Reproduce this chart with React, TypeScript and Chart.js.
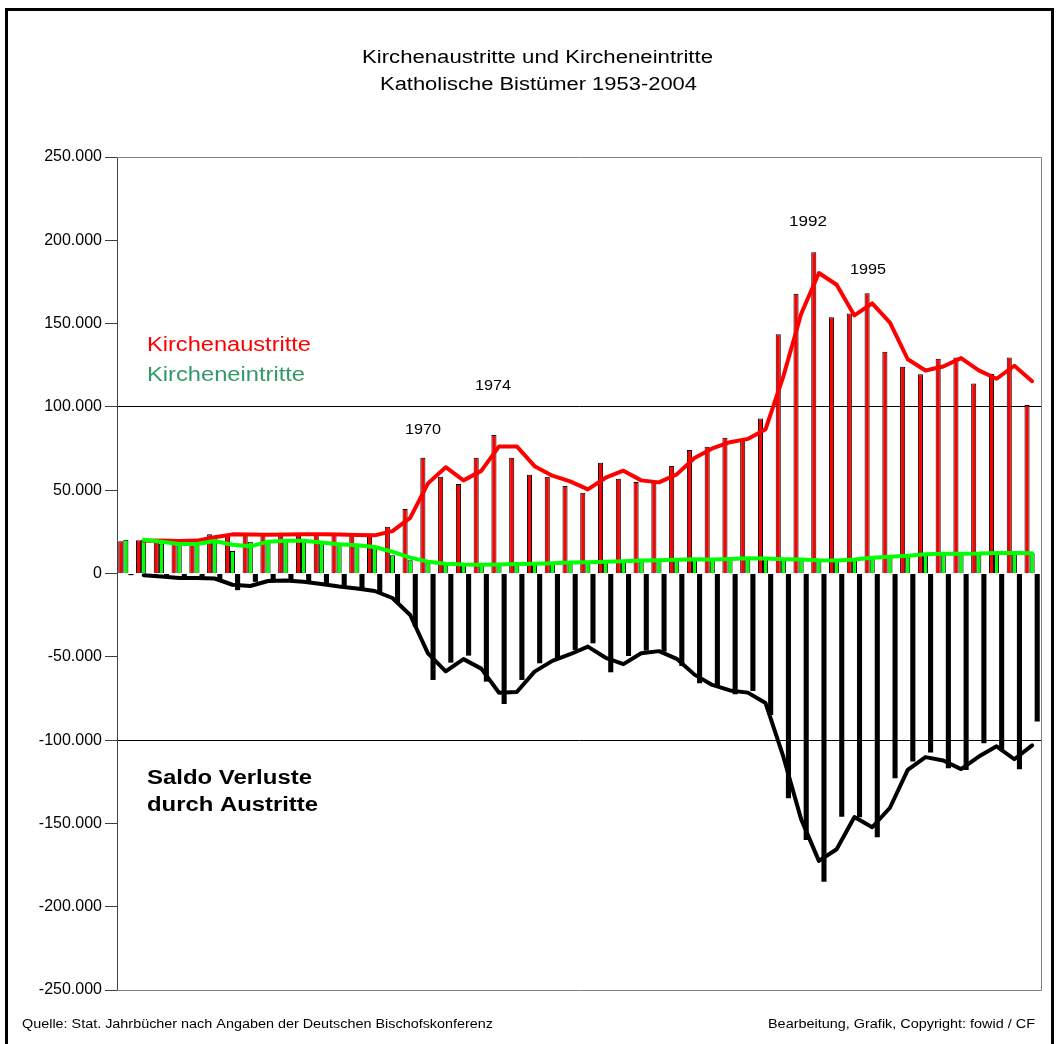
import React, { useEffect, useRef } from 'react';
import { Chart, registerables } from 'chart.js';

Chart.register(...registerables);

// Categories: years 1953-2004
const years = [
  '1953', '1954', '1955', '1956', '1957', '1958', '1959', '1960', '1961', '1962',
  '1963', '1964', '1965', '1966', '1967', '1968', '1969', '1970', '1971', '1972',
  '1973', '1974', '1975', '1976', '1977', '1978', '1979', '1980', '1981', '1982',
  '1983', '1984', '1985', '1986', '1987', '1988', '1989', '1990', '1991', '1992',
  '1993', '1994', '1995', '1996', '1997', '1998', '1999', '2000', '2001', '2002',
  '2003', '2004',
];

// Kirchenaustritte (red bars)
const austritte = [
  19300, 20000, 19500, 19500, 20000, 23500, 23500, 23200, 23200, 23500,
  23500, 23500, 23300, 23000, 22800, 28100, 38700, 69500, 58100, 53700,
  69500, 83100, 69500, 59300, 58100, 52500, 48500, 66500, 56900, 54900,
  54500, 64500, 74100, 76100, 81500, 80100, 93100, 143600, 167900, 192800,
  153800, 156000, 168200, 133100, 124100, 119600, 128900, 129700, 114100, 119700,
  129700, 101100,
];

// Kircheneintritte (green bars)
const eintritte = [
  20300, 20100, 18000, 17500, 18000, 21000, 13500, 19100, 19100, 20100,
  19100, 18100, 17100, 16700, 15100, 11000, 8000, 6200, 5500, 5200,
  5400, 5500, 6000, 5800, 6500, 6600, 6800, 7200, 7400, 8200,
  7800, 8600, 8400, 8400, 9000, 9400, 8500, 8700, 8000, 7800,
  7800, 9000, 9900, 10200, 11200, 11800, 12000, 11800, 12200, 12500,
  12200, 12200,
];

// Saldo (black bars)
const saldo = [
  -1000, -1000, -2500, -3000, -2500, -3500, -10000, -5000, -4000, -4500,
  -5500, -7000, -8500, -9500, -11500, -17900, -31900, -63900, -53500, -49300,
  -64900, -78300, -63900, -53900, -51000, -45900, -41900, -59300, -49500, -46300,
  -46900, -55500, -65900, -67900, -72500, -70500, -85000, -134900, -160000, -185000,
  -146000, -146300, -158300, -122900, -112900, -107500, -116900, -117900, -101900, -105500,
  -117500, -88900,
];

// Trend lines (2-year moving average lines)
const austritteTrend = [
  null, 19650, 19750, 19500, 19750, 21750, 23500, 23350, 23200, 23350,
  23500, 23500, 23400, 23150, 22900, 25450, 33400, 54100, 63800, 55900,
  61600, 76300, 76300, 64400, 58700, 55300, 50500, 57500, 61700, 55900,
  54700, 59500, 69300, 75100, 78800, 80800, 86600, 118350, 155750, 180350,
  173300, 154900, 162100, 150650, 128600, 121850, 124250, 129300, 121900, 116900,
  124700, 115400,
];

const eintritteTrend = [
  null, 20200, 19050, 17750, 17750, 19500, 17250, 16300, 19100, 19600,
  19600, 18600, 17600, 16900, 15900, 13050, 9500, 7100, 5850, 5350,
  5300, 5450, 5750, 5900, 6150, 6550, 6700, 7000, 7300, 7800,
  8000, 8200, 8500, 8400, 8700, 9200, 8950, 8600, 8350, 7900,
  7800, 8400, 9450, 10050, 10700, 11500, 11900, 11900, 12000, 12350,
  12350, 12200,
];

const saldoTrend = [
  null, -1000, -1750, -2750, -2750, -3000, -6750, -7500, -4500, -4250,
  -5000, -6250, -7750, -9000, -10500, -14700, -24900, -47900, -58700, -51400,
  -57100, -71600, -71100, -58900, -52450, -48450, -43900, -50600, -54400, -47900,
  -46600, -51200, -60700, -66900, -70200, -71500, -77750, -109950, -147450, -172500,
  -165500, -146150, -152300, -140600, -117900, -110200, -112200, -117400, -109900, -103700,
  -111500, -103200,
];

const yMin = -250000;
const yMax = 250000;
const yStep = 50000;
const gridValues = [100000, -100000];

const titleLines = ['Kirchenaustritte und Kircheneintritte', 'Katholische Bistümer 1953-2004'];
const legendAustritte = 'Kirchenaustritte';
const legendEintritte = 'Kircheneintritte';
const saldoLines = ['Saldo Verluste', 'durch Austritte'];
const yearNotes = ['1970', '1974', '1992', '1995'];
const sourceText = 'Quelle: Stat. Jahrbücher nach Angaben der Deutschen Bischofskonferenz';
const creditText = 'Bearbeitung, Grafik, Copyright: fowid / CF';

const FONT = '"Liberation Sans", Arial, Helvetica, sans-serif';

function fmt(v: number): string {
  const s = Math.abs(v).toString().replace(/\B(?=(\d{3})+(?!\d))/g, '.');
  return (v < 0 ? '-' : '') + s;
}

function drawStretched(
  ctx: CanvasRenderingContext2D,
  text: string,
  x: number,
  y: number,
  targetW: number,
  size: number,
  color: string,
  align: 'left' | 'center' | 'right',
  bold = false,
) {
  ctx.save();
  ctx.font = `${bold ? 'bold ' : ''}${size}px ${FONT}`;
  ctx.fillStyle = color;
  ctx.textBaseline = 'middle';
  ctx.textAlign = 'left';
  const w = ctx.measureText(text).width;
  const sx = targetW / w;
  let left = x;
  if (align === 'center') left = x - targetW / 2;
  if (align === 'right') left = x - targetW;
  ctx.translate(left, y);
  ctx.scale(sx, 1);
  ctx.fillText(text, 0, 0);
  ctx.restore();
}

const decorPlugin = {
  id: 'decor',
  beforeDatasetsDraw(chart: any) {
    const { ctx, chartArea } = chart;
    const { left, right, top, bottom } = chartArea;
    ctx.save();
    ctx.strokeStyle = '#808080';
    ctx.lineWidth = 1;
    ctx.beginPath();
    ctx.moveTo(left, top + 0.5);
    ctx.lineTo(right + 0.5, top + 0.5);
    ctx.lineTo(right + 0.5, bottom + 0.5);
    ctx.lineTo(left, bottom + 0.5);
    ctx.stroke();
    ctx.restore();
  },
  afterDraw(chart: any) {
    const { ctx } = chart;
    ctx.save();
    // outer frame
    ctx.strokeStyle = '#000';
    ctx.lineWidth = 3;
    ctx.strokeRect(6.5, 9.5, 1046, 1040);

    // title
    drawStretched(ctx, titleLines[0], 537.5, 58, 351, 18, '#000', 'center');
    drawStretched(ctx, titleLines[1], 538.5, 85, 317, 18, '#000', 'center');

    // legend-like labels
    drawStretched(ctx, legendAustritte, 147, 345, 164, 20, '#ff0000', 'left');
    drawStretched(ctx, legendEintritte, 147, 375, 158, 20, '#339966', 'left');
    drawStretched(ctx, saldoLines[0], 147, 778, 165, 20, '#000', 'left', true);
    drawStretched(ctx, saldoLines[1], 147, 805, 171, 20, '#000', 'left', true);

    // year annotations
    drawStretched(ctx, yearNotes[0], 405, 430, 36, 14, '#000', 'left');
    drawStretched(ctx, yearNotes[1], 475, 386, 36, 14, '#000', 'left');
    drawStretched(ctx, yearNotes[2], 789, 222, 38, 14, '#000', 'left');
    drawStretched(ctx, yearNotes[3], 850, 270, 36, 14, '#000', 'left');

    // footer
    drawStretched(ctx, sourceText, 22, 1025, 471, 12, '#000', 'left');
    drawStretched(ctx, creditText, 1035, 1025, 267, 12, '#000', 'right');
    ctx.restore();
  },
};

export default function App() {
  const canvasRef = useRef<HTMLCanvasElement | null>(null);

  useEffect(() => {
    const canvas = canvasRef.current;
    if (!canvas) return;
    const barCommon = { categoryPercentage: 0.86, barPercentage: 1.0 };
    const chart = new Chart(canvas, {
      type: 'bar',
      data: {
        labels: years,
        datasets: [
          {
            type: 'line',
            label: 'Kircheneintritte Trend',
            data: eintritteTrend,
            borderColor: '#00ff00',
            backgroundColor: '#00ff00',
            borderWidth: 4,
            pointRadius: 0,
            tension: 0,
            borderJoinStyle: 'round',
            borderCapStyle: 'round',
            order: 0,
          },
          {
            type: 'line',
            label: 'Kirchenaustritte Trend',
            data: austritteTrend,
            borderColor: '#ff0000',
            backgroundColor: '#ff0000',
            borderWidth: 4,
            pointRadius: 0,
            tension: 0,
            borderJoinStyle: 'round',
            borderCapStyle: 'round',
            order: 1,
          },
          {
            type: 'line',
            label: 'Saldo Trend',
            data: saldoTrend,
            borderColor: '#000000',
            backgroundColor: '#000000',
            borderWidth: 4,
            pointRadius: 0,
            tension: 0,
            borderJoinStyle: 'round',
            borderCapStyle: 'round',
            order: 1,
          },
          {
            type: 'bar',
            label: 'Kirchenaustritte',
            data: austritte,
            backgroundColor: '#ff0000',
            borderColor: '#000000',
            borderWidth: 1,
            order: 2,
            ...barCommon,
          },
          {
            type: 'bar',
            label: 'Kircheneintritte',
            data: eintritte,
            backgroundColor: '#00ff00',
            borderColor: '#000000',
            borderWidth: 1,
            order: 2,
            ...barCommon,
          },
          {
            type: 'bar',
            label: 'Saldo',
            data: saldo,
            backgroundColor: '#000000',
            borderColor: '#000000',
            borderWidth: 0,
            order: 2,
            ...barCommon,
          },
        ] as any,
      },
      options: {
        animation: false,
        responsive: false,
        devicePixelRatio: 1,
        layout: { padding: { left: 10, right: 15, top: 157, bottom: 54 } },
        plugins: {
          legend: { display: false },
          tooltip: { enabled: false },
          title: { display: false },
        },
        scales: {
          x: {
            display: false,
            offset: true,
          },
          y: {
            min: yMin,
            max: yMax,
            ticks: {
              stepSize: yStep,
              callback: (v: any) => fmt(Number(v)),
              color: '#000',
              font: { family: FONT, size: 16 },
              padding: 3,
            },
            grid: {
              color: (c: any) =>
                c.tick && gridValues.includes(c.tick.value) ? '#000000' : 'rgba(0,0,0,0)',
              tickColor: '#404040',
              tickLength: 12,
              lineWidth: 1,
              drawTicks: true,
            },
            border: { display: true, color: '#404040', width: 1 },
            afterFit: (s: any) => {
              s.width = 107;
            },
          },
        },
      } as any,
      plugins: [decorPlugin],
    });
    return () => chart.destroy();
  }, []);

  return (
    <div style={{ position: 'absolute', left: 0, top: 0, width: 1056, height: 1044, background: '#fff' }}>
      <canvas ref={canvasRef} width={1056} height={1044} style={{ display: 'block' }} />
    </div>
  );
}
